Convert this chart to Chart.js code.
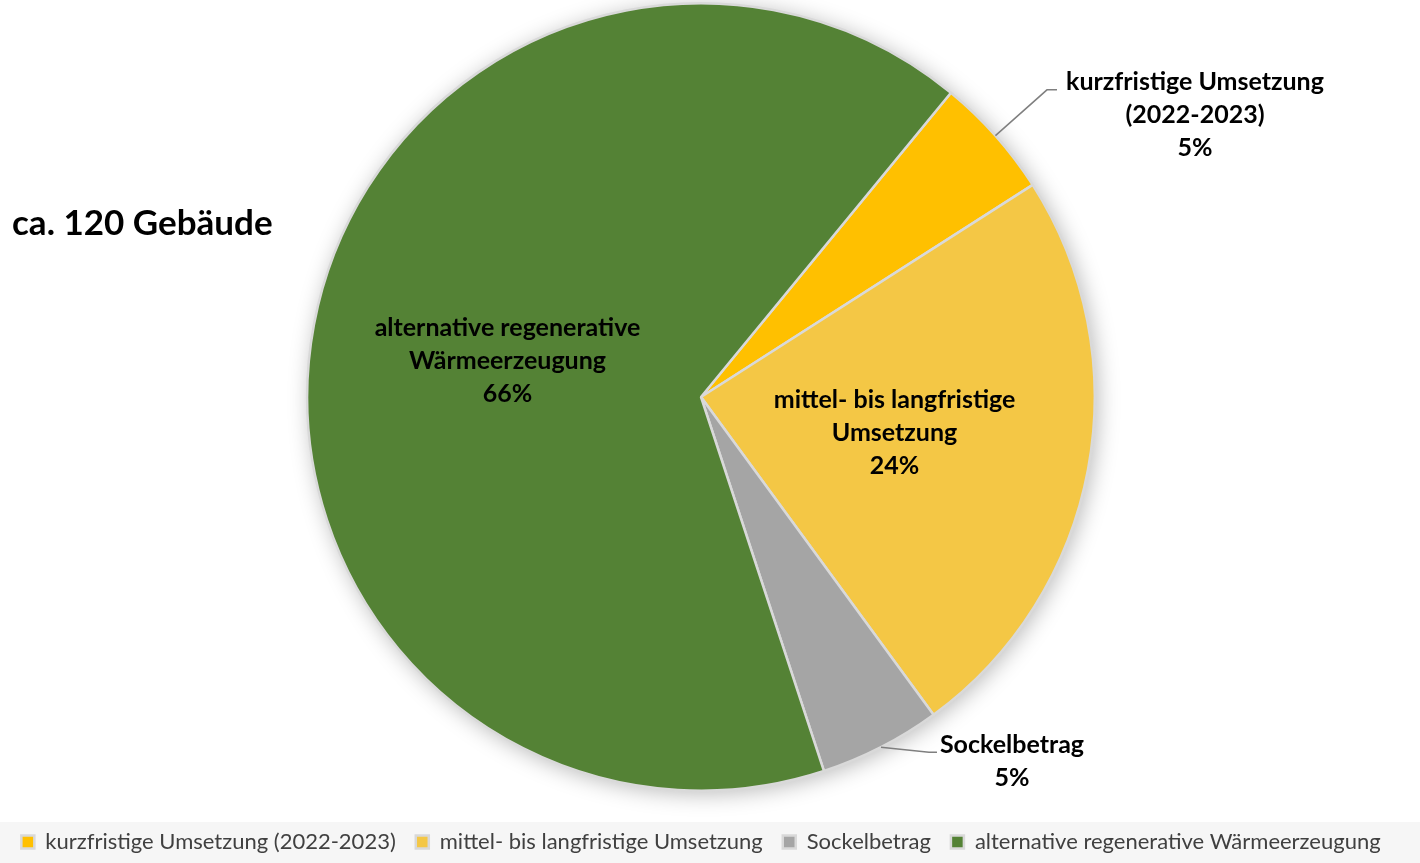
<!DOCTYPE html>
<html><head><meta charset="utf-8">
<script src="https://cdn.jsdelivr.net/npm/chart.js@4"></script>
<style>
html,body{margin:0;padding:0;background:#fff;}
#wrap{position:relative;width:1420px;height:863px;}
#title{position:absolute;left:12px;top:199px;font:bold 35px Lato, sans-serif;color:#000;line-height:44px;}
</style></head>
<body><div id="wrap"><canvas id="c" width="1420" height="863"></canvas>
<div id="title">ca. 120 Gebäude</div></div>
<script>
const categories = ["kurzfristige Umsetzung (2022-2023)", "mittel- bis langfristige Umsetzung", "Sockelbetrag", "alternative regenerative Wärmeerzeugung"];
const labelLines = [["kurzfristige Umsetzung", "(2022-2023)"], ["mittel- bis langfristige", "Umsetzung"], ["Sockelbetrag"], ["alternative regenerative", "Wärmeerzeugung"]];
const values = [5, 24, 5, 66];
const colors = ["#FFC000", "#F4C745", "#A5A5A5", "#548235"];
const outside = [true, false, true, false];
const startAngle = 39.4;

const total = values.reduce((a,b)=>a+b,0);
const FONT = "Lato, sans-serif";

const bgPlugin = {
  id:'bg',
  beforeDraw(chart){
    const ctx = chart.ctx;
    ctx.save();
    ctx.fillStyle = '#f6f6f6';
    ctx.fillRect(0, 822, chart.width, chart.height-822);
    ctx.restore();
  },
  beforeDatasetsDraw(chart){
    const arc = chart.getDatasetMeta(0).data[0];
    if(!arc) return;
    const ctx = chart.ctx;
    ctx.save();
    ctx.shadowColor = 'rgba(0,0,0,0.28)';
    ctx.shadowBlur = 22;
    ctx.shadowOffsetX = 3;
    ctx.shadowOffsetY = 3;
    ctx.fillStyle = '#d9d9d9';
    ctx.beginPath();
    ctx.arc(arc.x, arc.y, arc.outerRadius, 0, Math.PI*2);
    ctx.fill();
    ctx.restore();
  }
};

const labelPlugin = {
  id:'lbl',
  afterDatasetsDraw(chart){
    const ctx = chart.ctx;
    const meta = chart.getDatasetMeta(0);
    ctx.save();
    ctx.font = 'bold 25px ' + FONT;
    ctx.fillStyle = '#000';
    ctx.textAlign = 'center';
    ctx.textBaseline = 'middle';
    const lh = 33;
    meta.data.forEach((arc, i) => {
      const pct = Math.round(values[i]/total*100) + '%';
      const lines = labelLines[i].concat([pct]);
      if(!outside[i]){
        const p = arc.getCenterPoint();
        const y0 = p.y - (lines.length-1)/2*lh;
        lines.forEach((t,k)=>ctx.fillText(t, p.x, y0 + k*lh));
      } else {
        const mid = (arc.startAngle + arc.endAngle)/2;
        const r = arc.outerRadius;
        const sx = arc.x + Math.cos(mid)*r, sy = arc.y + Math.sin(mid)*r;
        let ex, ey, hx, tx, ty;
        if(i === 0){
          ex = arc.x + Math.cos(mid)*r*1.175; ey = arc.y + Math.sin(mid)*r*1.175;
          hx = ex + 10; tx = hx + 138; ty = ey - 8;
        } else {
          ex = sx + 48; ey = sy + 5; hx = ex + 8; tx = hx + 75; ty = ey - 7;
        }
        ctx.strokeStyle = '#7f7f7f';
        ctx.lineWidth = 1.5;
        ctx.beginPath();
        ctx.moveTo(sx, sy); ctx.lineTo(ex, ey); ctx.lineTo(hx, ey);
        ctx.stroke();
        lines.forEach((t,k)=>ctx.fillText(t, tx, ty + k*lh));
      }
    });
    ctx.restore();
  }
};

new Chart(document.getElementById('c'), {
  type:'pie',
  data:{ labels: categories, datasets:[{ data: values, backgroundColor: colors, borderColor:'#d9d9d9', borderWidth:2.5 }]},
  options:{
    responsive:false, animation:false,
    rotation: startAngle,
    layout:{ padding:{ top:2, left:0, right:18, bottom:0 } },
    plugins:{
      tooltip:{enabled:false},
      legend:{ position:'bottom',
        title:{ display:true, text:' ', font:{size:10}, padding:{top:7, bottom:0} },
        labels:{ font:{family:FONT, size:22}, color:'#404040', boxWidth:13, boxHeight:13, padding:20 } }
    }
  },
  plugins:[bgPlugin, labelPlugin]
});
</script></body></html>
